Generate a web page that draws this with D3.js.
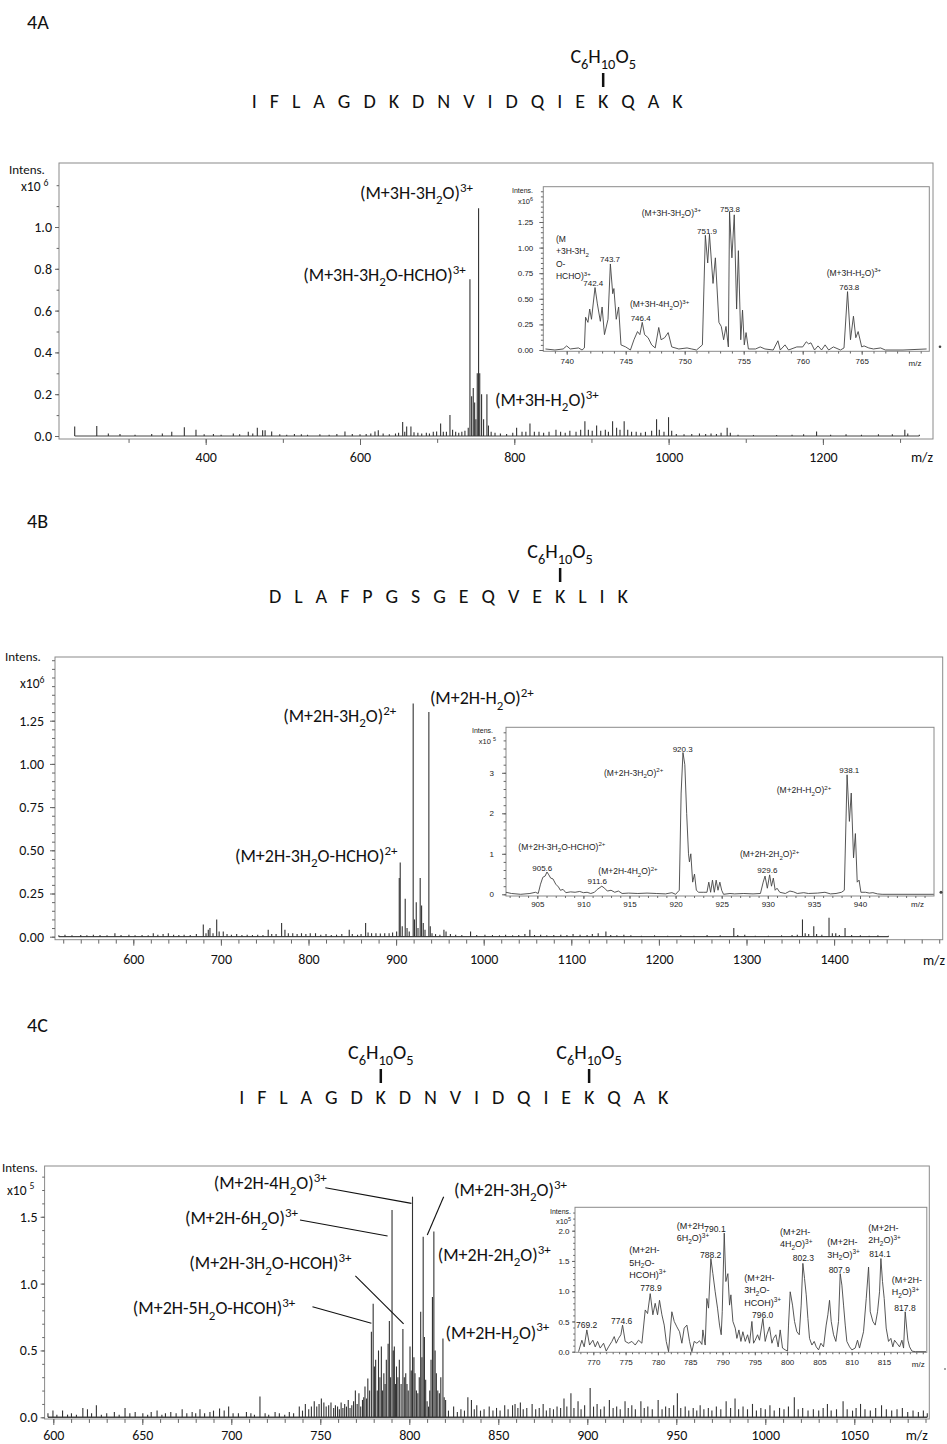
<!DOCTYPE html>
<html>
<head>
<meta charset="utf-8">
<script src="https://cdn.jsdelivr.net/npm/d3@7"></script>
<style>
  body { margin: 0; background: #fff; }
  svg { display: block; }
  text { font-family: Carlito, Calibri, Lato, "Open Sans", sans-serif; fill: #111; }
  .inset text { font-family: "Liberation Sans", Arial, sans-serif; fill: #222; }
</style>
</head>
<body>
<script>
// ---- peptide sequences and glycation sites (residue index) ----
var seqA = "IFLAGDKDNVIDQIEKQAK", sitesA = [15];
var seqB = "DLAFPGSGEQVEKLIK", sitesB = [12];
var seqC = "IFLAGDKDNVIDQIEKQAK", sitesC = [6, 15];

// ---- 4A full spectrum, sticks [m/z, intens x10^6] ----
var peaksA = [[230.2,0.045],[258.8,0.048],[273.8,0.012],[288.9,0.01],[308.4,0.006],[330,0.01],[343.8,0.012],[356,0.02],[372.3,0.042],[387.4,0.03],[398,0.008],[410,0.01],[420,0.006],[435.8,0.012],[444,0.008],[455.2,0.02],[461,0.012],[466.9,0.04],[473.8,0.028],[477,0.028],[485.5,0.022],[496,0.008],[505,0.006],[515,0.01],[524,0.008],[532,0.006],[548,0.008],[560,0.006],[570,0.01],[580.5,0.022],[590,0.01],[600,0.008],[608,0.01],[614,0.012],[619.4,0.022],[623.7,0.028],[630,0.012],[638,0.008],[646,0.012],[650,0.016],[655.3,0.067],[658,0.02],[660.5,0.045],[666,0.045],[670,0.018],[675,0.015],[680,0.012],[686,0.015],[690,0.012],[695,0.02],[699.3,0.022],[704.5,0.06],[708,0.02],[712,0.02],[716.6,0.1],[720,0.03],[724,0.02],[728,0.015],[732,0.02],[736,0.025],[740.3,0.04],[742.5,0.75],[744.7,0.19],[746.8,0.23],[748.6,0.16],[750.2,0.08],[752.0,0.3],[753.7,1.09],[755.2,0.3],[757.6,0.2],[760.2,0.08],[764.5,0.2],[766.5,0.05],[770,0.02],[775,0.015],[782,0.012],[790,0.01],[798,0.015],[803,0.04],[810,0.02],[815,0.02],[820.3,0.06],[826,0.02],[832,0.02],[838,0.015],[845,0.02],[854,0.03],[860,0.02],[866,0.015],[872,0.025],[880,0.02],[886,0.03],[891.5,0.07],[896,0.03],[901,0.025],[906.7,0.05],[912,0.025],[918,0.03],[922,0.02],[927.4,0.07],[932.6,0.04],[937,0.03],[942.4,0.07],[947,0.03],[952,0.02],[958,0.02],[964,0.015],[970,0.02],[978,0.025],[984.4,0.08],[988,0.03],[994,0.02],[999.9,0.09],[1004,0.025],[1010,0.01],[1020,0.008],[1030,0.01],[1040,0.012],[1048,0.01],[1055,0.012],[1062,0.01],[1068,0.015],[1075.9,0.04],[1080,0.015],[1090,0.006],[1110,0.005],[1140,0.005],[1160,0.006],[1175,0.008],[1191.8,0.022],[1210,0.006],[1230,0.008],[1250,0.006],[1272,0.008],[1290,0.008],[1306.2,0.03],[1310,0.012],[1325,0.006]];

// ---- 4A zoom, profile [m/z, intens x10^6] ----
var insetA = [[738.2,0.01],[739,0.0],[739.7,0.01],[740,0.04],[740.3,0.01],[741,0.02],[741.3,0.0],[741.5,0.02],[741.6,0.32],[741.8,0.27],[741.95,0.4],[742.1,0.3],[742.4,0.61],[742.6,0.45],[742.85,0.28],[743.0,0.42],[743.2,0.15],[743.5,0.3],[743.7,0.84],[743.9,0.55],[744.0,0.6],[744.2,0.3],[744.4,0.42],[744.6,0.05],[745.0,0.03],[745.4,0.0],[745.7,0.1],[746.0,0.18],[746.2,0.15],[746.4,0.27],[746.6,0.15],[746.9,0.12],[747.2,0.05],[747.5,0.02],[747.8,0.22],[748.0,0.1],[748.3,0.12],[748.6,0.17],[748.9,0.03],[749.5,0.01],[750.2,0.02],[750.6,0.01],[751.0,0.0],[751.5,0.05],[751.75,1.12],[751.95,0.85],[752.1,1.13],[752.4,0.65],[752.6,0.9],[752.9,0.27],[753.1,0.23],[753.3,0.1],[753.5,0.23],[753.7,0.03],[753.8,1.35],[754.0,0.9],[754.2,1.32],[754.4,0.4],[754.55,0.97],[754.75,0.1],[754.9,0.39],[755.05,0.05],[755.2,0.17],[755.4,0.01],[756,0.01],[756.4,0.03],[756.8,0.01],[757.5,0.0],[757.9,0.09],[758.1,0.0],[758.5,0.05],[758.8,0.0],[759.5,0.03],[760.0,0.03],[760.3,0.08],[760.5,0.06],[760.7,0.07],[761.0,0.0],[761.3,0.04],[761.6,0.0],[761.9,0.05],[762.2,0.0],[762.6,0.03],[763.2,0.0],[763.5,0.02],[763.8,0.57],[764.05,0.1],[764.3,0.33],[764.5,0.12],[764.7,0.18],[765.0,0.03],[765.2,0.04],[765.6,0.02],[766.0,0.01],[766.6,0.02],[767,0],[768.5,0.0],[770.5,0.01]];

// ---- 4B full spectrum, sticks [m/z, intens x10^6] ----
var peaksB = [[515,0.008],[522,0.012],[530,0.008],[540,0.01],[547,0.008],[554.4,0.012],[562,0.01],[570,0.008],[579,0.02],[586,0.01],[595,0.012],[602,0.008],[610,0.01],[617,0.008],[622.8,0.02],[628,0.012],[634,0.015],[640,0.02],[646,0.012],[652,0.01],[658,0.012],[665,0.01],[672,0.015],[679.9,0.07],[683,0.02],[685.6,0.04],[687.5,0.05],[691,0.02],[695.2,0.1],[698,0.03],[702.7,0.03],[707,0.015],[712,0.012],[718,0.015],[724,0.01],[730,0.012],[736,0.01],[742,0.012],[748,0.01],[754,0.04],[758,0.015],[763,0.015],[769.3,0.08],[773.1,0.04],[777,0.02],[782,0.02],[787,0.015],[792,0.02],[797,0.015],[802,0.02],[808,0.02],[814,0.012],[820,0.015],[826,0.01],[832,0.012],[838,0.015],[846.5,0.04],[850,0.015],[856,0.012],[860,0.015],[865.2,0.08],[868,0.025],[872,0.02],[877,0.02],[882,0.018],[887,0.02],[892,0.02],[896,0.025],[900.6,0.03],[903.6,0.34],[904.7,0.43],[907,0.06],[910.4,0.22],[912.5,0.05],[915,0.03],[919.5,1.35],[921,0.1],[923,0.2],[925,0.05],[927.5,0.34],[929.1,0.18],[931,0.08],[933,0.04],[937.4,1.30],[939,0.06],[941,0.02],[945,0.015],[950,0.012],[954.6,0.04],[957,0.03],[962,0.015],[968,0.012],[975,0.01],[985,0.03],[992,0.01],[1001.4,0.012],[1010,0.01],[1018,0.008],[1025,0.012],[1033,0.008],[1040,0.01],[1047,0.015],[1052.7,0.04],[1058,0.01],[1065,0.012],[1072,0.008],[1080,0.01],[1088,0.012],[1095,0.01],[1102,0.015],[1110,0.012],[1118,0.01],[1124,0.015],[1130.7,0.02],[1139.5,0.03],[1145,0.01],[1152,0.008],[1160,0.012],[1168,0.008],[1180,0.006],[1195,0.008],[1210,0.006],[1225,0.008],[1240,0.006],[1255,0.01],[1270,0.008],[1285.5,0.05],[1290,0.01],[1298,0.012],[1310,0.006],[1325,0.006],[1340,0.008],[1352,0.01],[1358,0.012],[1363.9,0.1],[1367,0.02],[1371,0.015],[1376.8,0.06],[1380,0.015],[1386,0.012],[1394.2,0.11],[1398,0.02],[1401.9,0.02],[1406,0.01],[1412.5,0.05],[1420,0.01],[1430,0.008],[1440,0.006],[1450,0.008],[1462,0.005]];

// ---- 4B zoom, profile [m/z, intens x10^5] ----
var insetB = [[901.6,0.05],[902.2,0.02],[903.2,0.0],[904.2,0.02],[904.8,0.05],[905.1,0.02],[905.35,0.25],[905.6,0.42],[905.85,0.45],[906.05,0.55],[906.25,0.48],[906.45,0.4],[906.7,0.38],[907.0,0.25],[907.3,0.18],[907.5,0.1],[907.8,0.12],[908.1,0.04],[908.6,0.06],[909.1,0.05],[909.6,0.07],[910.0,0.04],[910.4,0.05],[910.8,0.02],[911.2,0.05],[911.5,0.12],[912.0,0.2],[912.3,0.15],[912.6,0.08],[913.0,0.1],[913.4,0.05],[913.8,0.08],[914.2,0.02],[914.9,0.03],[915.9,0.02],[916.9,0.03],[917.9,0.02],[918.9,0.01],[919.6,0.04],[920.0,0.0],[920.4,0.1],[920.6,2.5],[920.8,3.5],[921.0,3.2],[921.2,2.0],[921.4,1.0],[921.5,0.8],[921.65,1.0],[921.85,0.3],[922.05,0.5],[922.25,0.1],[922.5,0.05],[923.0,0.05],[923.4,0.05],[923.6,0.3],[923.8,0.05],[924.0,0.35],[924.2,0.05],[924.4,0.35],[924.6,0.1],[924.8,0.3],[925.0,0.1],[925.2,0.0],[925.9,0.02],[926.4,0.01],[927.4,0.02],[928.4,0.01],[929.2,0.02],[929.5,0.3],[929.7,0.45],[929.95,0.15],[930.2,0.48],[930.4,0.2],[930.6,0.4],[930.8,0.1],[931.0,0.15],[931.3,0.05],[931.9,0.02],[932.4,0.08],[932.8,0.06],[933.2,0.02],[933.9,0.04],[934.4,0.02],[935.4,0.03],[936.2,0.05],[936.8,0.01],[937.4,0.02],[938.0,0.05],[938.3,0.1],[938.6,2.95],[938.85,1.8],[939.05,2.5],[939.3,0.9],[939.5,1.5],[939.7,0.3],[939.9,0.35],[940.1,0.05],[940.6,0.05],[941.0,0.03],[941.4,0.04],[941.9,0.01],[942.4,0.0],[948,0.0]];

// ---- 4C full spectrum, sticks [m/z, intens x10^5] ----
var peaksC = [[597,0.03],[599.8,0.05],[602,0.02],[605.2,0.05],[608,0.02],[610.2,0.03],[613,0.02],[616.6,0.07],[619.2,0.06],[621.5,0.03],[624.2,0.09],[627,0.02],[630,0.03],[634.3,0.04],[637,0.02],[640.3,0.07],[643,0.03],[646,0.04],[650.3,0.03],[653,0.02],[655,0.04],[658.3,0.05],[661,0.02],[663,0.03],[666,0.04],[669,0.03],[672.4,0.06],[675,0.03],[678,0.04],[680,0.03],[682.4,0.06],[685,0.03],[688,0.04],[690,0.05],[693.4,0.065],[696,0.05],[698.5,0.08],[701,0.03],[704,0.03],[708.5,0.04],[711,0.03],[713,0.02],[716.1,0.155],[719,0.03],[721,0.02],[724.6,0.04],[727,0.03],[730,0.02],[732.6,0.04],[735,0.03],[738.2,0.08],[740,0.05],[741.6,0.1],[743.5,0.06],[745,0.08],[746.6,0.12],[748,0.08],[749.3,0.1],[750.6,0.14],[752,0.11],[753.3,0.08],[754.7,0.09],[756,0.11],[757.5,0.07],[758.5,0.09],[759.7,0.08],[760.7,0.06],[761.7,0.11],[762.7,0.07],[763.7,0.1],[764.7,0.08],[765.7,0.13],[766.7,0.07],[767.7,0.09],[768.7,0.12],[769.7,0.2],[770.7,0.1],[771.7,0.18],[772.7,0.08],[773.7,0.13],[774.4,0.15],[775.1,0.23],[776,0.14],[776.7,0.29],[777.7,0.2],[778.7,0.64],[779.7,0.85],[780.4,0.38],[781.1,0.43],[782,0.2],[782.7,0.5],[783.5,0.3],[784.3,0.53],[785,0.2],[785.7,0.33],[786.4,0.25],[787.1,0.43],[788.1,0.55],[788.8,0.72],[789.5,0.3],[790.3,1.55],[791,0.5],[791.6,0.53],[792.2,0.25],[792.8,0.38],[793.6,0.3],[794.4,0.43],[795.4,0.25],[796.4,0.66],[797.2,0.3],[798,0.33],[798.7,0.25],[799.4,0.2],[800.4,0.53],[801.1,0.35],[801.8,1.65],[802.6,0.45],[803.2,0.33],[804,0.2],[804.8,0.18],[805.6,0.3],[806.4,0.79],[807.1,0.45],[807.8,1.35],[808.5,0.6],[809.2,0.28],[810,0.12],[810.8,0.08],[811.5,0.2],[812.2,0.43],[813,0.9],[813.8,1.39],[814.5,0.5],[815.2,0.33],[816,0.2],[816.9,0.18],[817.7,0.3],[818.9,0.59],[819.6,0.15],[820.4,0.13],[822,0.05],[824.9,0.08],[827,0.04],[829,0.06],[831,0.05],[832.9,0.15],[834.9,0.13],[836.5,0.06],[837.9,0.09],[840,0.05],[842,0.06],[844.9,0.08],[847,0.05],[849,0.07],[851,0.05],[853.6,0.09],[855.5,0.06],[858,0.09],[859.4,0.1],[861,0.07],[862.4,0.11],[864,0.06],[866,0.07],[869,0.1],[871,0.06],[873,0.07],[875.2,0.1],[877,0.05],[879,0.07],[881,0.06],[883,0.08],[885,0.07],[886.9,0.14],[888.5,0.08],[890.8,0.18],[892.5,0.07],[894.8,0.12],[896.5,0.06],[898.5,0.09],[901.6,0.22],[903.5,0.08],[905.5,0.1],[907.5,0.06],[909.5,0.08],[912.4,0.13],[914.5,0.07],[916.5,0.08],[918.5,0.06],[921.2,0.12],[923,0.07],[925,0.09],[927,0.06],[930.1,0.12],[932,0.07],[934,0.08],[936.5,0.06],[939.8,0.13],[942,0.06],[944,0.08],[946,0.07],[948.5,0.09],[950.6,0.18],[952.5,0.07],[955,0.08],[957,0.05],[959.5,0.07],[961.5,0.05],[963.4,0.09],[965.5,0.06],[968,0.07],[970,0.05],[972.5,0.08],[975,0.06],[978,0.12],[980.5,0.07],[983,0.14],[985,0.06],[987.5,0.08],[990,0.06],[992.8,0.1],[995,0.05],[997.5,0.07],[1000,0.06],[1002.6,0.09],[1005,0.05],[1008,0.07],[1010.5,0.06],[1013,0.08],[1016.3,0.15],[1018.5,0.06],[1021,0.07],[1024,0.05],[1027,0.06],[1030,0.05],[1032.5,0.07],[1034.9,0.1],[1037,0.05],[1040,0.06],[1043.7,0.12],[1046,0.06],[1049,0.05],[1051,0.07],[1053.5,0.1],[1056,0.06],[1059,0.05],[1062,0.07],[1065.3,0.09],[1068,0.06],[1071,0.05],[1074,0.06],[1077,0.07],[1080,0.04],[1083,0.05],[1086,0.04],[1088.8,0.05],[1091,0.03]];

// ---- 4C zoom, profile [m/z, intens x10^5] ----
var insetC = [[767.72,0],[768.23,0.19],[768.59,0.08],[769.0,0.36],[769.42,0.11],[769.93,0.19],[770.3,0.08],[770.66,0.17],[771.07,0.06],[771.59,0.14],[772.0,0.01],[772.36,0.08],[772.88,0.17],[773.24,0.25],[773.55,0.14],[773.91,0.22],[774.27,0.28],[774.53,0.44],[774.94,0.17],[775.46,0.14],[775.97,0.17],[776.49,0.11],[777.0,0.19],[777.52,0.14],[778.04,0.69],[778.4,0.63],[778.81,0.96],[779.22,0.61],[779.58,0.8],[779.95,0.61],[780.25,0.85],[780.62,0.61],[780.98,0.44],[781.29,0.17],[781.65,0.0],[782.16,0.66],[782.53,0.5],[782.94,0.41],[783.35,0.33],[783.71,0.14],[784.07,0.39],[784.49,0.44],[784.9,0.17],[785.26,0.0],[785.62,0.17],[786.03,0.14],[786.45,0.18],[786.81,0.12],[786.96,0.36],[787.32,0.11],[787.58,0.88],[787.84,0.72],[788.2,1.54],[788.51,1.29],[788.87,0.99],[789.23,0.72],[789.54,0.44],[789.8,0.28],[789.96,0.66],[790.27,1.96],[790.52,1.16],[790.83,1.29],[791.09,0.77],[791.3,0.94],[791.61,0.5],[791.97,0.39],[792.23,0.22],[792.54,0.36],[792.85,0.17],[793.15,0.33],[793.52,0.17],[793.88,0.28],[794.19,0.14],[794.55,0.5],[794.81,0.14],[795.06,0.19],[795.43,0.28],[795.73,0.19],[796.25,0.55],[796.61,0.17],[796.87,0.28],[797.28,0.41],[797.65,0.14],[797.9,0.22],[798.26,0.28],[798.62,0.08],[798.93,0.36],[799.29,0.06],[799.71,0.03],[800.07,0.01],[800.22,0.44],[800.48,0.99],[800.84,0.77],[801.15,0.5],[801.51,0.33],[801.88,0.28],[802.18,0.77],[802.44,1.46],[802.7,1.21],[802.96,0.94],[803.22,0.55],[803.47,0.22],[803.84,0.11],[804.2,0.17],[804.51,0.08],[804.87,0.03],[805.23,0.14],[805.64,0.08],[806.05,0.44],[806.31,0.61],[806.57,0.85],[806.83,0.5],[807.19,0.28],[807.55,0.17],[807.96,0.5],[808.22,1.29],[808.48,1.1],[808.74,0.77],[809.0,0.44],[809.25,0.17],[809.67,0.08],[810.03,0.03],[810.54,0.06],[810.9,0.19],[811.21,0.06],[811.83,0.33],[812.25,0.88],[812.61,1.4],[812.87,0.66],[813.28,0.5],[813.64,0.44],[814.0,0.66],[814.31,0.99],[814.52,1.54],[814.77,1.16],[815.03,0.88],[815.34,0.39],[815.7,0.17],[816.06,0.22],[816.37,0.08],[816.63,0.19],[816.99,0.14],[817.41,0.08],[817.77,0.19],[818.03,0.06],[818.28,0.66],[818.54,0.36],[818.7,0.19],[818.96,0.08],[819.32,0.01],[819.84,0.0],[821.5,0.0]];

// ---- annotations: [text, m/z, intensity] in each panel's own units ----
var ionsA = [["(M+3H-3H_{2}O)^{3+}", 600.0, 1.134], ["(M+3H-3H_{2}O-HCHO)^{3+}", 526.5, 0.742], ["(M+3H-H_{2}O)^{3+}", 774.9, 0.144]];
var ionsB = [["(M+2H-3H_{2}O)^{2+}", 771.2, 1.242], ["(M+2H-H_{2}O)^{2+}", 938.6, 1.345], ["(M+2H-3H_{2}O-HCHO)^{2+}", 716.1, 0.432]];
var ionsC = [["(M+2H-4H_{2}O)^{3+}", 690.1, 1.705], ["(M+2H-6H_{2}O)^{3+}", 674.0, 1.444], ["(M+2H-3H_{2}O-HCOH)^{3+}", 676.4, 1.107],
             ["(M+2H-5H_{2}O-HCOH)^{3+}", 644.7, 0.770], ["(M+2H-3H_{2}O)^{3+}", 825.1, 1.655], ["(M+2H-2H_{2}O)^{3+}", 816.0, 1.169], ["(M+2H-H_{2}O)^{3+}", 820.3, 0.588]];
var leadersC = [[752.8,1.717,801.2,1.60],[738.6,1.476,787.8,1.356],[769.7,1.057,796.8,0.698],[745.6,0.827,778.7,0.703],[819.3,1.65,810.1,1.363]];

var insetIonsA = [[["(M+3H-3H_{2}O)^{3+}"], 746.36, 1.311], [["(M", "+3H-3H_{2}", "O-", "HCHO)^{3+}"], 739.09, 1.055], [["(M+3H-4H_{2}O)^{3+}"], 745.36, 0.42], [["(M+3H-H_{2}O)^{3+}"], 762.03, 0.726]];
var insetMzA = [["753.8", 753.84, 1.348], ["751.9", 751.89, 1.133], ["743.7", 743.67, 0.859], ["742.4", 742.25, 0.628], ["746.4", 746.27, 0.28], ["763.8", 763.95, 0.589]];
var insetIonsB = [[["(M+2H-3H_{2}O)^{2+}"], 912.23, 2.93], [["(M+2H-H_{2}O)^{2+}"], 930.97, 2.50], [["(M+2H-3H_{2}O-HCHO)^{2+}"], 902.94, 1.10], [["(M+2H-4H_{2}O)^{2+}"], 911.62, 0.50], [["(M+2H-2H_{2}O)^{2+}"], 926.98, 0.914]];
var insetMzB = [["920.3", 920.77, 3.506], ["938.1", 938.84, 2.995], ["905.6", 905.54, 0.583], ["911.6", 911.51, 0.254], ["929.6", 929.95, 0.526]];
var insetIonsC = [[["(M+2H-", "5H_{2}O-", "HCOH)^{3+}"], 775.57, 1.631], [["(M+2H-", "6H_{2}O)^{3+}"], 782.91, 2.033], [["(M+2H-", "3H_{2}O-", "HCOH)^{3+}"], 793.37, 1.174],
                  [["(M+2H-", "4H_{2}O)^{3+}"], 798.9, 1.934], [["(M+2H-", "3H_{2}O)^{3+}"], 806.22, 1.759], [["(M+2H-", "2H_{2}O)^{3+}"], 812.57, 2.0], [["(M+2H-", "H_{2}O)^{3+}"], 816.19, 1.136]];
var insetMzC = [["769.2", 768.98, 0.392], ["774.6", 774.4, 0.458], ["778.9", 778.93, 1.008], ["790.1", 788.84, 1.979], ["788.2", 788.17, 1.549], ["796.0", 796.22, 0.557], ["802.3", 802.51, 1.494], ["807.9", 808.08, 1.30], ["814.1", 814.38, 1.565], ["817.8", 818.25, 0.668]];

var svg = d3.select("body").append("svg").attr("width", 947).attr("height", 1444);

// text with _{sub} and ^{sup} parts
function rich(sel, str, x, y, size, anchor) {
  var t = sel.append("text").attr("x", x).attr("y", y)
      .attr("text-anchor", anchor || "start").style("font-size", size + "px");
  var off = 0;
  str.split(/(_\{[^}]*\}|\^\{[^}]*\})/).forEach(function(p) {
    if (!p) return;
    var target = 0, txt = p, fs = size;
    if (p[0] === "_") { target = size * 0.3; txt = p.slice(2, -1); fs = size * 0.72; }
    else if (p[0] === "^") { target = -size * 0.4; txt = p.slice(2, -1); fs = size * 0.72; }
    t.append("tspan").attr("dy", target - off).style("font-size", fs + "px").text(txt);
    off = target;
  });
  return t;
}

function peptide(seq, sites, x0, width, y) {
  var t = svg.append("text").attr("x", x0).attr("y", y).style("font-size", "20px")
      .attr("textLength", width).attr("lengthAdjust", "spacing")
      .text(seq.split("").join(" "));
  sites.forEach(function(i) {
    var e = t.node().getExtentOfChar(2 * i);
    var cx = e.x + e.width / 2;
    svg.append("line").attr("x1", cx).attr("x2", cx).attr("y1", y - 35).attr("y2", y - 21)
      .attr("stroke", "#111").attr("stroke-width", 2.5);
    rich(svg, "C_{6}H_{10}O_{5}", cx, y - 45, 20, "middle");
  });
}

function axes(g, sx, sy, o) {
  g.append("rect").attr("x", o.L).attr("y", o.T).attr("width", o.R - o.L).attr("height", o.B - o.T)
    .attr("fill", "#fff").attr("stroke", o.frame).attr("stroke-width", 1);
  var fs = o.fs + "px";
  var ym = g.append("g").attr("transform", "translate(" + o.L + ",0)")
    .call(d3.axisLeft(sy).tickValues(o.yMinor).tickSize(o.yt * 0.6).tickFormat(""));
  var yM = g.append("g").attr("transform", "translate(" + o.L + ",0)")
    .call(d3.axisLeft(sy).tickValues(o.yMajor).tickSize(o.yt).tickPadding(o.yp).tickFormat(o.yf));
  var xm = g.append("g").attr("transform", "translate(0," + o.B + ")")
    .call(d3.axisBottom(sx).tickValues(o.xMinor).tickSize(o.xt * 0.65).tickFormat(""));
  var xM = g.append("g").attr("transform", "translate(0," + o.B + ")")
    .call(d3.axisBottom(sx).tickValues(o.xMajor).tickSize(o.xt).tickPadding(o.xp).tickFormat(d3.format("d")));
  [ym, yM, xm, xM].forEach(function(a) {
    a.select(".domain").remove();
    a.attr("font-family", null).attr("font-size", null);
    a.selectAll("line").attr("stroke", "#666");
    a.selectAll("text").style("font-size", fs).attr("fill", "#222");
  });
}

function sticks(g, sx, sy, data, w) {
  var ext = d3.extent(data, function(d) { return d[0]; });
  g.append("line").attr("x1", sx(ext[0])).attr("x2", sx(ext[1]))
    .attr("y1", sy(0)).attr("y2", sy(0)).attr("stroke", "#444").attr("stroke-width", w);
  g.selectAll("line.pk").data(data).join("line").attr("class", "pk")
    .attr("x1", function(d) { return sx(d[0]); }).attr("x2", function(d) { return sx(d[0]); })
    .attr("y1", sy(0)).attr("y2", function(d) { return sy(d[1]); })
    .attr("stroke", "#333").attr("stroke-width", 1.1);
}

function profile(g, sx, sy, data) {
  g.append("path").datum(data).attr("fill", "none").attr("stroke", "#444").attr("stroke-width", 0.9)
    .attr("d", d3.line().x(function(d) { return sx(d[0]); }).y(function(d) { return sy(d[1]); }));
}

function insetLabels(g, sx, sy, ions, mzs, fs, lh) {
  ions.forEach(function(a) {
    a[0].forEach(function(line, k) { rich(g, line, sx(a[1]), sy(a[2]) + k * lh, fs, "start"); });
  });
  mzs.forEach(function(a) {
    g.append("text").attr("x", sx(a[1])).attr("y", sy(a[2])).attr("text-anchor", "middle")
      .style("font-size", (fs - 0.5) + "px").text(a[0]);
  });
}

// ---------- panel titles & sequences ----------
[["4A", 29], ["4B", 528], ["4C", 1032]].forEach(function(p) {
  svg.append("text").attr("x", 27).attr("y", p[1]).style("font-size", "20px").text(p[0]);
});
peptide(seqA, sitesA, 251.7, 431, 108);
peptide(seqB, sitesB, 269, 359, 603);
peptide(seqC, sitesC, 239.3, 429, 1104);

// ---------- 4A ----------
(function() {
  var g = svg.append("g");
  var sx = d3.scaleLinear().domain([400, 600]).range([205.7, 360]);
  var sy = d3.scaleLinear().domain([0, 1]).range([436, 227]);
  axes(g, sx, sy, { L: 59, T: 163, R: 933, B: 439, frame: "#8a8a8a", fs: 14,
    yMajor: [0, 0.2, 0.4, 0.6, 0.8, 1.0], yMinor: d3.range(0, 1.25, 0.1), yt: 4, yp: 3, yf: d3.format(".1f"),
    xMajor: [400, 600, 800, 1000, 1200], xMinor: d3.range(300, 1301, 100), xt: 6, xp: 7 });
  sticks(g, sx, sy, peaksA, 1.2);
  g.append("text").attr("x", 9).attr("y", 174).style("font-size", "13px").text("Intens.");
  rich(g, "x10 ^{6}", 21, 191, 13.5, "start");
  g.append("text").attr("x", 922).attr("y", 462).attr("text-anchor", "middle").style("font-size", "14px").text("m/z");
  ionsA.forEach(function(a) { rich(g, a[0], sx(a[1]), sy(a[2]), 18, "start"); });

  var ig = svg.append("g").attr("class", "inset");
  var ix = d3.scaleLinear().domain([740, 765]).range([566.7, 861.7]);
  var iy = d3.scaleLinear().domain([0, 1.25]).range([350, 222]);
  axes(ig, ix, iy, { L: 543.3, T: 186.7, R: 929.3, B: 351.3, frame: "#8a8a8a", fs: 8,
    yMajor: [0, 0.25, 0.5, 0.75, 1.0, 1.25], yMinor: d3.range(0, 1.56, 0.05), yt: 4, yp: 6, yf: d3.format(".2f"),
    xMajor: [740, 745, 750, 755, 760, 765], xMinor: d3.range(739, 771, 1), xt: 3.5, xp: 4 });
  profile(ig, ix, iy, insetA);
  ig.append("text").attr("x", 533).attr("y", 193).attr("text-anchor", "end").style("font-size", "7px").text("Intens.");
  rich(ig, "x10^{6}", 533, 204, 7.5, "end");
  ig.append("text").attr("x", 915).attr("y", 366).attr("text-anchor", "middle").style("font-size", "8px").text("m/z");
  insetLabels(ig, ix, iy, insetIonsA, insetMzA, 8.5, 12.5);
  svg.append("circle").attr("cx", 940).attr("cy", 346.7).attr("r", 1.3).attr("fill", "#444");
})();

// ---------- 4B ----------
(function() {
  var g = svg.append("g");
  var sx = d3.scaleLinear().domain([600, 700]).range([133.3, 220.9]);
  var sy = d3.scaleLinear().domain([0, 1]).range([936.7, 763.9]);
  axes(g, sx, sy, { L: 55, T: 657, R: 942.7, B: 939.7, frame: "#8a8a8a", fs: 14,
    yMajor: [0, 0.25, 0.5, 0.75, 1.0, 1.25], yMinor: d3.range(0, 1.61, 0.05), yt: 5, yp: 6, yf: d3.format(".2f"),
    xMajor: [600, 700, 800, 900, 1000, 1100, 1200, 1300, 1400], xMinor: d3.range(520, 1521, 20), xt: 6, xp: 8 });
  sticks(g, sx, sy, peaksB, 1.2);
  g.append("text").attr("x", 5).attr("y", 661).style("font-size", "13px").text("Intens.");
  rich(g, "x10^{6}", 20, 688, 13.5, "start");
  g.append("text").attr("x", 934).attr("y", 965).attr("text-anchor", "middle").style("font-size", "14px").text("m/z");
  ionsB.forEach(function(a) { rich(g, a[0], sx(a[1]), sy(a[2]), 18, "start"); });

  var ig = svg.append("g").attr("class", "inset");
  var ix = d3.scaleLinear().domain([905, 940]).range([537.3, 860]);
  var iy = d3.scaleLinear().domain([0, 1]).range([894.3, 853.8]);
  axes(ig, ix, iy, { L: 506, T: 727.3, R: 934, B: 896, frame: "#8a8a8a", fs: 8,
    yMajor: [0, 1, 2, 3], yMinor: d3.range(0, 4.01, 0.2), yt: 4, yp: 8, yf: d3.format("d"),
    xMajor: [905, 910, 915, 920, 925, 930, 935, 940], xMinor: d3.range(902, 948, 1), xt: 3, xp: 2 });
  profile(ig, ix, iy, insetB);
  ig.append("text").attr("x", 493).attr("y", 733).attr("text-anchor", "end").style("font-size", "7px").text("Intens.");
  rich(ig, "x10 ^{5}", 496, 744, 7.5, "end");
  ig.append("text").attr("x", 917.5).attr("y", 907).attr("text-anchor", "middle").style("font-size", "8px").text("m/z");
  insetLabels(ig, ix, iy, insetIonsB, insetMzB, 8.5, 12);
  svg.append("circle").attr("cx", 941).attr("cy", 892.3).attr("r", 1.5).attr("fill", "#444");
})();

// ---------- 4C ----------
(function() {
  var g = svg.append("g");
  var sx = d3.scaleLinear().domain([600, 650]).range([53.3, 142.3]);
  var sy = d3.scaleLinear().domain([0, 1]).range([1417.3, 1283.6]);
  axes(g, sx, sy, { L: 44.6, T: 1166, R: 929.3, B: 1419, frame: "#8a8a8a", fs: 14,
    yMajor: [0, 0.5, 1.0, 1.5], yMinor: d3.range(0, 1.81, 0.1), yt: 4, yp: 3, yf: d3.format(".1f"),
    xMajor: [600, 650, 700, 750, 800, 850, 900, 950, 1000, 1050], xMinor: d3.range(600, 1091, 10), xt: 6, xp: 5 });
  sticks(g, sx, sy, peaksC, 1.6);
  g.append("text").attr("x", 2).attr("y", 1171.5).style("font-size", "13px").text("Intens.");
  rich(g, "x10 ^{5}", 7, 1194.5, 13.5, "start");
  g.append("text").attr("x", 916.7).attr("y", 1440).attr("text-anchor", "middle").style("font-size", "14px").text("m/z");
  ionsC.forEach(function(a) { rich(g, a[0], sx(a[1]), sy(a[2]), 18, "start"); });
  g.selectAll("line.lead").data(leadersC).join("line").attr("class", "lead")
    .attr("x1", function(d) { return sx(d[0]); }).attr("y1", function(d) { return sy(d[1]); })
    .attr("x2", function(d) { return sx(d[2]); }).attr("y2", function(d) { return sy(d[3]); })
    .attr("stroke", "#111").attr("stroke-width", 1.1);

  var ig = svg.append("g").attr("class", "inset");
  var ix = d3.scaleLinear().domain([770, 815]).range([593.3, 884]);
  var iy = d3.scaleLinear().domain([0, 1]).range([1351.7, 1291.2]);
  axes(ig, ix, iy, { L: 575, T: 1207.3, R: 926.8, B: 1352.3, frame: "#8a8a8a", fs: 8,
    yMajor: [0, 0.5, 1.0, 1.5, 2.0], yMinor: d3.range(0, 2.31, 0.1), yt: 3, yp: 2.5, yf: d3.format(".1f"),
    xMajor: [770, 775, 780, 785, 790, 795, 800, 805, 810, 815], xMinor: d3.range(768, 822, 1), xt: 3, xp: 4 });
  profile(ig, ix, iy, insetC);
  ig.append("text").attr("x", 571).attr("y", 1213.5).attr("text-anchor", "end").style("font-size", "7px").text("Intens.");
  rich(ig, "x10^{5}", 571, 1224, 7.5, "end");
  ig.append("text").attr("x", 918.3).attr("y", 1367).attr("text-anchor", "middle").style("font-size", "8px").text("m/z");
  insetLabels(ig, ix, iy, insetIonsC, insetMzC, 9, 12.5);
  svg.append("circle").attr("cx", 945).attr("cy", 1369).attr("r", 1).attr("fill", "#888");
})();
</script>
</body>
</html>
